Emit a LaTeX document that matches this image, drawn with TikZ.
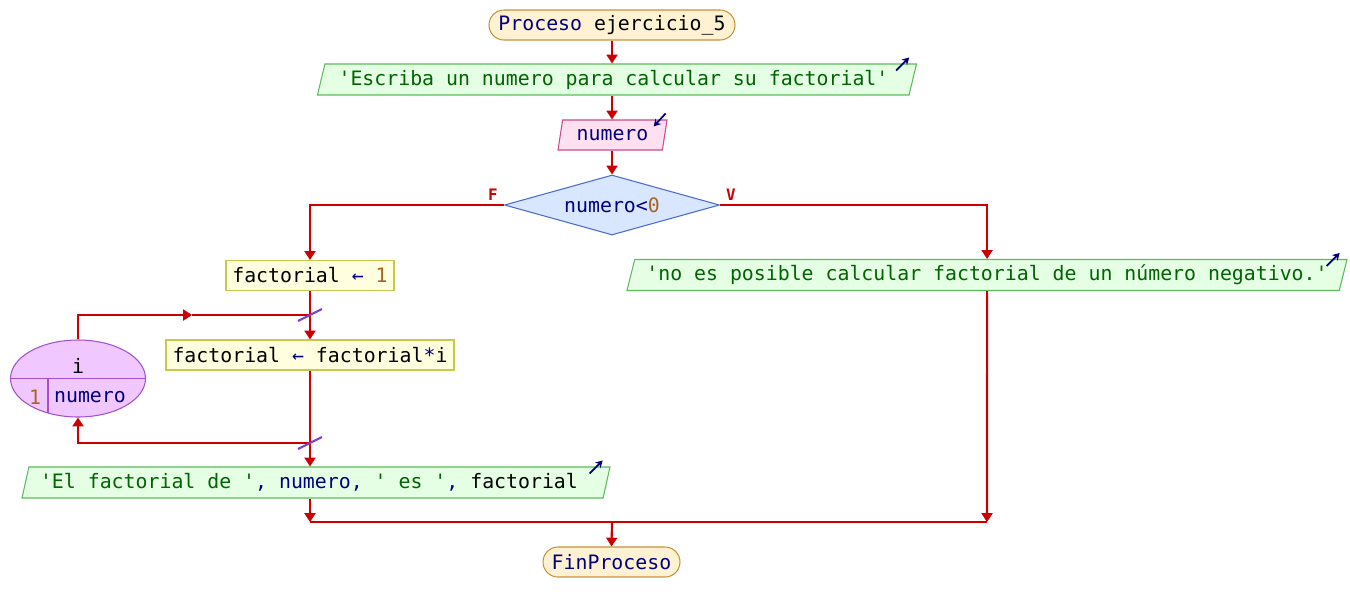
\documentclass[tikz,border=0pt]{standalone}
\usepackage{fontspec}
\setmonofont{DejaVu Sans Mono}
\usetikzlibrary{shapes.geometric,shapes.misc,arrows.meta}

\definecolor{flowred}{HTML}{CC0000}
\definecolor{termfill}{HTML}{FFF2D2}
\definecolor{termline}{HTML}{C8913C}
\definecolor{outfill}{HTML}{E4FFE4}
\definecolor{outline}{HTML}{5CBC5C}
\definecolor{infill}{HTML}{FFE0F0}
\definecolor{inline}{HTML}{C84C8C}
\definecolor{decfill}{HTML}{D8E6FF}
\definecolor{decline}{HTML}{4A6CD0}
\definecolor{asgfill}{HTML}{FFFFE0}
\definecolor{asgline}{HTML}{C8C84A}
\definecolor{loopfill}{HTML}{F0C8FF}
\definecolor{loopline}{HTML}{A050D0}
\definecolor{vartxt}{HTML}{000080}
\definecolor{strtxt}{HTML}{006400}
\definecolor{numtxt}{HTML}{A8641E}
\definecolor{slashcol}{HTML}{8040D0}

\newlength{\pxu}
\setlength{\pxu}{0.02cm}
\newcommand{\pvar}[1]{\textcolor{vartxt}{#1}}
\newcommand{\pstr}[1]{\textcolor{strtxt}{#1}}
\newcommand{\pnum}[1]{\textcolor{numtxt}{#1}}

\begin{document}
\begin{tikzpicture}[x=0.02cm,y=-0.02cm,
    every node/.style={font=\ttfamily\fontsize{11.3}{13}\selectfont, inner sep=0pt},
    flowline/.style={draw=flowred, line width=1.2pt},
    flowarrow/.style={flowline, -{Triangle[length=5pt,width=6.2pt]}},
    termbox/.style={rounded rectangle, draw=termline, fill=termfill, line width=0.6pt, minimum height=30\pxu},
    outbox/.style={trapezium, trapezium left angle=69, trapezium right angle=111, trapezium stretches body,
        draw=outline, fill=outfill, line width=0.6pt, minimum height=31\pxu, text=strtxt},
    inbox/.style={trapezium, trapezium left angle=68, trapezium right angle=112, trapezium stretches body,
        draw=inline, fill=infill, line width=0.6pt, minimum height=30\pxu},
    decbox/.style={diamond, aspect=3.6, draw=decline, fill=decfill, line width=0.6pt, minimum width=215\pxu, minimum height=60\pxu},
    asgbox/.style={rectangle, draw=asgline, fill=asgfill, line width=0.6pt, minimum height=30\pxu},
    loopbox/.style={ellipse, draw=loopline, fill=loopfill, line width=0.6pt, minimum width=135\pxu, minimum height=77\pxu},
    iconarrow/.style={draw=vartxt, line width=1pt, -{Stealth[length=4pt,width=4.5pt]}},
    slash/.style={draw=slashcol, line width=1.2pt},
    branch/.style={font=\ttfamily\bfseries\fontsize{9}{10}\selectfont, text=flowred}
  ]
  \useasboundingbox (0,0) rectangle (1350,613);

  \node[termbox, minimum width=246\pxu] (start) at (612,25) {\pvar{Proceso} ejercicio\_5};
  \node[outbox, minimum width=599\pxu] (o1) at (617,79.5) {'Escriba un numero para calcular su factorial'\kern4pt};
  \node[inbox, minimum width=109\pxu] (in1) at (612.5,135) {\pvar{numero}};
  \node[decbox] (dec) at (612,205) {\pvar{numero<}\pnum{0}};
  \node[branch] (lf) at (493,195) {F};
  \node[branch] (lv) at (731,195) {V};

  \node[asgbox, minimum width=168\pxu] (a1) at (310,275.5) {factorial \pvar{←} \pnum{1}};
  \node[asgbox, minimum width=288\pxu] (a2) at (310,355) {factorial \pvar{←} factorial\pvar{*}i};
  \node[loopbox] (loop) at (78,378.5) {};
  \node (lvar) at (78,366) {i};
  \node (lfrom) at (35,397) {\pnum{1}};
  \node (lto) at (90,397) {\pvar{numero}};
  \draw[draw=loopline, line width=0.6pt] (loop.west) -- (loop.east);
  \draw[draw=loopline, line width=0.6pt] ([shift={(-30,0)}]loop.center) -- ++(0,34);

  \node[outbox, minimum width=588\pxu] (o3) at (316,482.5) {'El factorial de '\pvar{, numero, }' es '\pvar{, }\textcolor{black}{factorial}\kern8pt};
  \node[outbox, minimum width=720\pxu] (o2) at (987,275) {'no es posible calcular factorial de un número negativo.'};
  \node[termbox, minimum width=137\pxu] (stop) at (611.5,562) {\pvar{FinProceso}};

  \coordinate (j1) at (310,315);
  \coordinate (la) at (192,315);
  \coordinate (j2) at (310,443);
  \coordinate (m1) at (310,522);
  \coordinate (m2) at (987,522);
  \coordinate (m3) at (612,522);

  \draw[flowarrow] (start.south) -- (start.south |- o1.north);
  \draw[flowarrow] (start.south |- o1.south) -- (in1.north -| start.south);
  \draw[flowarrow] (in1.south -| start.south) -- (dec.north);
  \draw[flowarrow] (dec.west) -| (a1.north);
  \draw[flowarrow] (dec.east) -| (o2.north);
  \draw[flowarrow] (a1.south) -- (a2.north);
  \draw[flowarrow] (a2.south) -- (a2.south |- o3.north);
  \draw[flowarrow] (loop.north) |- (la);
  \draw[flowline] (la) -- (j1);
  \draw[flowarrow] (j2) -| (loop.south);
  \draw[flowarrow] (a2.south |- o3.south) -- (m1);
  \draw[flowarrow] (o2.south) -- (m2);
  \draw[flowline] (m1) -- (m2);
  \draw[flowarrow] (m3) -- (stop.north);

  \draw[slash] ([shift={(-12,6)}]j1) -- ([shift={(12,-6)}]j1);
  \draw[slash] ([shift={(-12,6)}]j2) -- ([shift={(12,-6)}]j2);

  \draw[iconarrow] ([shift={(-21,7)}]o1.top right corner) -- ([shift={(-8,-6)}]o1.top right corner);
  \draw[iconarrow] ([shift={(-2,-6)}]in1.top right corner) -- ([shift={(-14,7)}]in1.top right corner);
  \draw[iconarrow] ([shift={(-21,7)}]o3.top right corner) -- ([shift={(-8,-6)}]o3.top right corner);
  \draw[iconarrow] ([shift={(-21,7)}]o2.top right corner) -- ([shift={(-8,-6)}]o2.top right corner);
\end{tikzpicture}
\end{document}
